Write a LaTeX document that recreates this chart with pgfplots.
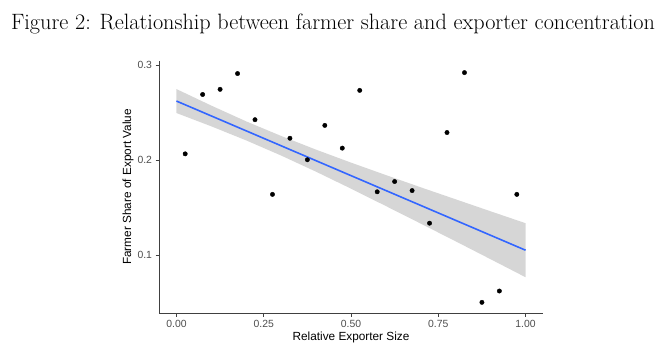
\documentclass[border=0pt]{standalone}
\usepackage{fontspec}
\usepackage{pgfplots}
\pgfplotsset{compat=1.18}
\newfontfamily\sansf{Liberation Sans}
\definecolor{smoothblue}{HTML}{3366FF}
\definecolor{ticklab}{HTML}{4D4D4D}
\begin{document}
\begin{tikzpicture}[x=1bp,y=1bp]
\path[use as bounding box] (0,0) rectangle (668,352);
\node[anchor=center,inner sep=0pt] at (333,328) {\fontsize{22.2bp}{26bp}\selectfont Figure 2: Relationship between farmer share and exporter concentration};
\begin{axis}[
  at={(159bp,39bp)}, anchor=south west,
  scale only axis, width=384bp, height=252bp,
  xmin=-0.05, xmax=1.05, ymin=0.0393, ymax=0.3042,
  axis x line=bottom, axis y line=left,
  axis line style={-, line width=0.8bp, draw=black!75},
  tick align=outside, major tick length=3.5bp,
  tick style={line width=0.8bp, draw=black!75},
  xtick={0,0.25,0.5,0.75,1}, ytick={0.1,0.2,0.3},
  xticklabel style={/pgf/number format/.cd, fixed, fixed zerofill, precision=2, assume math mode=true},
  yticklabel style={/pgf/number format/.cd, fixed, precision=1, assume math mode=true},
  ticklabel style={font=\sansf\fontsize{10.4bp}{12bp}\selectfont, text=ticklab},
  xlabel={Relative Exporter Size},
  ylabel={Farmer Share of Export Value},
  label style={font=\sansf\fontsize{11.8bp}{14bp}\selectfont, text=black},
  xlabel style={at={(axis description cs:0.5,-0.0952)}, anchor=center},
  ylabel style={at={(axis description cs:-0.0807,0.5)}, anchor=center},
  clip=true,
]
% binned points
\addplot[only marks, mark=*, mark size=2.2bp, draw=black, fill=black] coordinates {
(0.025,0.2066) (0.075,0.2690) (0.125,0.2744) (0.175,0.2910) (0.225,0.2425)
(0.275,0.1640) (0.325,0.2230) (0.375,0.2004) (0.425,0.2365) (0.475,0.2126)
(0.525,0.2733) (0.575,0.1667) (0.625,0.1775) (0.675,0.1680) (0.725,0.1337)
(0.775,0.2290) (0.825,0.2920) (0.875,0.0505) (0.925,0.0624) (0.975,0.1640)
};
% confidence band (upper then lower reversed)
\addplot[draw=none, fill=black!40, fill opacity=0.4] coordinates {
(0.0,0.2747) (0.1,0.2573) (0.2,0.2407) (0.3,0.2254) (0.4,0.2110) (0.5,0.1974)
(0.6,0.1843) (0.7,0.1714) (0.8,0.1588) (0.9,0.1462) (1.0,0.1337)
(1.0,0.0769) (0.9,0.0958) (0.8,0.1146) (0.7,0.1332) (0.6,0.1517) (0.5,0.1700)
(0.4,0.1878) (0.3,0.2048) (0.2,0.2207) (0.1,0.2355) (0.0,0.2495)
} -- cycle;
% fitted line
\addplot[smoothblue, line width=1.6bp] coordinates {(0,0.2621) (1,0.1053)};
\end{axis}
\end{tikzpicture}
\end{document}
